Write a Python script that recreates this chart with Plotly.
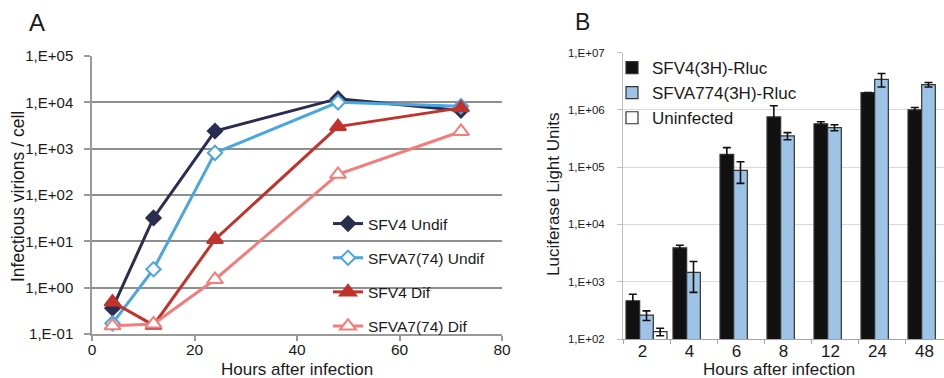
import plotly.graph_objects as go

# ---------------- Panel A data ----------------
hours_a = [4, 12, 24, 48, 72]
sfv4_undif = [0.36, 32, 2400, 12000, 6700]
sfva7_undif = [0.17, 2.5, 810, 10000, 8200]
sfv4_dif = [0.49, 0.155, 11, 3000, 7600]
sfva7_dif = [0.15, 0.165, 1.5, 280, 2350]
ytick_vals_a = [0.1, 1, 10, 100, 1000, 10000, 100000]
ytick_text_a = ["1,E-01", "1,E+00", "1,E+01", "1,E+02", "1,E+03", "1,E+04", "1,E+05"]

# ---------------- Panel B data ----------------
hours_b = ["2", "4", "6", "8", "12", "24", "48"]
sfv4_rluc = [465, 3900, 167000, 750000, 570000, 2000000, 1000000]
sfv4_rluc_err = [140, 420, 52000, 430000, 50000, 0, 100000]
sfva774_rluc = [260, 1450, 88000, 350000, 490000, 3400000, 2750000]
sfva774_rluc_err = [50, 800, 36000, 50000, 60000, 900000, 250000]
uninfected = [134, None, None, None, None, None, None]
uninfected_err = [20, 0, 0, 0, 0, 0, 0]
ytick_vals_b = [1e2, 1e3, 1e4, 1e5, 1e6, 1e7]
ytick_text_b = ["1,E+02", "1,E+03", "1,E+04", "1,E+05", "1,E+06", "1,E+07"]

W, H = 944, 378
FONT = "Liberation Sans, Arial, sans-serif"
TXT = "#1a1a1a"

fig = go.Figure()

line_series = [
    ("SFV4 Undif", sfv4_undif, "#2a2c50", "diamond", "#2a2c50", 11),
    ("SFVA7(74) Undif", sfva7_undif, "#4aa6dc", "diamond", "white", 11),
    ("SFV4 Dif", sfv4_dif, "#c0322b", "triangle-up", "#c0322b", 14),
    ("SFVA7(74) Dif", sfva7_dif, "#f27d7a", "triangle-up", "white", 14),
]
for i, (name, vals, col, sym, fill, size) in enumerate(line_series):
    fig.add_trace(go.Scatter(
        x=hours_a, y=vals, name=name, mode="lines+markers",
        line=dict(color=col, width=3),
        marker=dict(symbol=sym, size=size, color=fill, line=dict(color=col, width=2)),
        xaxis="x", yaxis="y", legend="legend", legendgroup="a%d" % i,
    ))

bar_series = [
    ("SFV4(3H)-Rluc", sfv4_rluc, sfv4_rluc_err, "#111111"),
    ("SFVA774(3H)-Rluc", sfva774_rluc, sfva774_rluc_err, "#9dc3e6"),
    ("Uninfected", uninfected, uninfected_err, "#ffffff"),
]
for i, (name, vals, err, col) in enumerate(bar_series):
    fig.add_trace(go.Bar(
        x=hours_b, y=vals, name=name,
        marker=dict(color=col, line=dict(color="#333333", width=1.2)),
        error_y=dict(type="data", array=err, visible=True, color="#111111",
                     thickness=1.6, width=4),
        xaxis="x2", yaxis="y2", legend="legend2",
    ))

def px_x(p):
    return p / W

def px_y(p):
    return 1 - p / H

def label(text, x, y, size, angle=0):
    return dict(text=text, x=px_x(x), y=px_y(y), xref="paper", yref="paper",
                xanchor="center", yanchor="middle", showarrow=False,
                textangle=angle, font=dict(size=size, color=TXT, family=FONT))

fig.update_layout(
    width=W, height=H,
    margin=dict(l=0, r=0, t=0, b=0, autoexpand=False),
    paper_bgcolor="white", plot_bgcolor="white",
    font=dict(family=FONT, color=TXT),
    barmode="group", bargap=0.128, bargroupgap=0,
    showlegend=True,
    xaxis=dict(
        domain=[px_x(92), px_x(502)], anchor="y", automargin=False,
        range=[0, 80], tickvals=[0, 20, 40, 60, 80],
        showgrid=False, zeroline=False,
        showline=True, linecolor="#9a9a9a", linewidth=1.5,
        ticks="outside", ticklen=5, tickcolor="#9a9a9a", tickwidth=1.5,
        ticklabelstandoff=-4,
        tickfont=dict(size=15.5, color=TXT, family=FONT),
    ),
    yaxis=dict(
        domain=[px_y(334), px_y(56)], anchor="x", automargin=False,
        type="log", range=[-1, 5],
        tickvals=ytick_vals_a, ticktext=ytick_text_a,
        showgrid=True, gridcolor="#8e8e8e", gridwidth=1.5,
        zeroline=False,
        showline=True, linecolor="#9a9a9a", linewidth=1.5,
        ticks="outside", ticklen=6, tickcolor="#9a9a9a", tickwidth=1.5,
        ticklabelstandoff=8,
        tickfont=dict(size=15, color=TXT, family=FONT),
    ),
    xaxis2=dict(
        domain=[px_x(623), 1.0], anchor="y2", automargin=False,
        type="category", range=[-0.5, -0.5 + (944 - 623) / 47.0],
        categoryorder="array", categoryarray=hours_b,
        showgrid=False, zeroline=False,
        showline=True, linecolor="#a6a6a6", linewidth=1,
        ticks="outside", tickson="boundaries", ticklen=4,
        tickcolor="#a6a6a6", tickwidth=1,
        ticklabelshift=-4, ticklabelstandoff=-3,
        tickfont=dict(size=17, color=TXT, family=FONT),
    ),
    yaxis2=dict(
        domain=[px_y(339), px_y(52.5)], anchor="x2", automargin=False,
        type="log", range=[2, 7],
        tickvals=ytick_vals_b, ticktext=ytick_text_b,
        showgrid=True, gridcolor="#d9d9d9", gridwidth=1,
        zeroline=False,
        showline=True, linecolor="#bfbfbf", linewidth=1,
        ticks="outside", ticklen=5, tickcolor="#bfbfbf", tickwidth=1,
        ticklabelstandoff=10,
        tickfont=dict(size=11.5, color=TXT, family=FONT),
    ),
    legend=dict(
        x=px_x(328), xanchor="left", y=px_y(207), yanchor="top",
        bgcolor="rgba(0,0,0,0)", borderwidth=0,
        font=dict(size=15.5, color=TXT, family=FONT),
        tracegroupgap=11, traceorder="grouped",
        itemwidth=30,
    ),
    legend2=dict(
        x=px_x(612), xanchor="left", y=px_y(50), yanchor="top",
        bgcolor="rgba(0,0,0,0)", borderwidth=0,
        font=dict(size=17, color=TXT, family=FONT),
        traceorder="normal",
        itemwidth=30,
    ),
    annotations=[
        label("A", 37, 23, 24),
        label("B", 582, 22, 23),
        label("Hours after infection", 297, 369, 17),
        label("Hours after infection", 779, 369, 17),
        label("Infectious virions / cell", 18, 197, 17.5, -90),
        label("Luciferase Light Units", 553, 195, 17, -90),
    ],
)

fig.write_html("out.html", config={"displayModeBar": False},
               post_script="document.body.style.margin='0';")
